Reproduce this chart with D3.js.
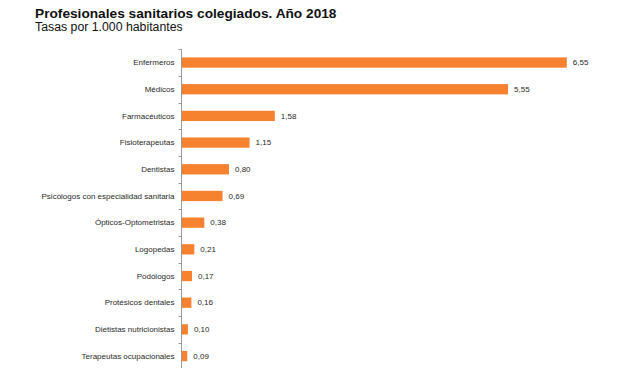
<!DOCTYPE html>
<html>
<head>
<meta charset="utf-8">
<script src="https://cdn.jsdelivr.net/npm/d3@7"></script>
<style>
  html, body { margin: 0; padding: 0; background: #fff; }
  svg { display: block; }
</style>
</head>
<body>
<svg id="chart" width="620" height="368"></svg>
<script>
const titleText = "Profesionales sanitarios colegiados. Año 2018";
const subtitleText = "Tasas por 1.000 habitantes";
const categories = [
  "Enfermeros", "Médicos", "Farmacéuticos", "Fisioterapeutas", "Dentistas",
  "Psicólogos con especialidad sanitaria", "Ópticos-Optometristas", "Logopedas",
  "Podólogos", "Protésicos dentales", "Dietistas nutricionistas", "Terapeutas ocupacionales"
];
const values = [6.55, 5.55, 1.58, 1.15, 0.80, 0.69, 0.38, 0.21, 0.17, 0.16, 0.10, 0.09];

const svg = d3.select("#chart");
const font = "'Liberation Sans', Arial, sans-serif";
const barColor = "#f6812f";
const textColor = "#2a2a2a";

const locale = d3.formatLocale({ decimal: ",", thousands: ".", grouping: [3], currency: ["", "€"] });
const fmt = locale.format(".2f");

const x = d3.scaleLinear().domain([0, 7]).range([182, 182 + 7 * 58.75]);
const y = d3.scaleBand().domain(categories).range([49.2, 369.4]).padding(0);
const barH = y.bandwidth() * 0.385;

svg.append("text").attr("x", 35).attr("y", 18.3)
  .attr("font-family", font).attr("font-weight", "bold").attr("font-size", "13.7px")
  .attr("fill", "#111").text(titleText);
svg.append("text").attr("x", 35).attr("y", 31)
  .attr("font-family", font).attr("font-size", "12.3px")
  .attr("fill", "#111").text(subtitleText);

// axis line + ticks at band boundaries
const axisX = x(0) - 0.5;
const g = svg.append("g");
g.append("line").attr("x1", axisX).attr("x2", axisX)
  .attr("y1", y.range()[0]).attr("y2", y.range()[1])
  .attr("stroke", "#9a9a9a").attr("stroke-width", 1);
const boundaries = categories.map(c => y(c)).concat([y.range()[1]]);
g.selectAll("line.tick").data(boundaries).join("line")
  .attr("class", "tick")
  .attr("x1", axisX - 3).attr("x2", axisX)
  .attr("y1", d => Math.round(d) + 0.5).attr("y2", d => Math.round(d) + 0.5)
  .attr("stroke", "#9a9a9a").attr("stroke-width", 1);

// category labels
g.selectAll("text.cat").data(categories).join("text")
  .attr("class", "cat")
  .attr("x", axisX - 7)
  .attr("y", d => y(d) + y.bandwidth() / 2)
  .attr("dy", "0.35em")
  .attr("text-anchor", "end")
  .attr("font-family", font).attr("font-size", "8px")
  .attr("fill", textColor)
  .text(d => d);

// bars
const data = categories.map((c, i) => ({ c, v: values[i] }));
svg.selectAll("rect.bar").data(data).join("rect")
  .attr("class", "bar")
  .attr("x", x(0))
  .attr("y", d => y(d.c) + (y.bandwidth() - barH) / 2)
  .attr("width", d => x(d.v) - x(0))
  .attr("height", barH)
  .attr("fill", barColor);

// value labels
svg.selectAll("text.val").data(data).join("text")
  .attr("class", "val")
  .attr("x", d => x(d.v) + 6)
  .attr("y", d => y(d.c) + y.bandwidth() / 2)
  .attr("dy", "0.35em")
  .attr("font-family", font).attr("font-size", "8px")
  .attr("fill", textColor)
  .text(d => fmt(d.v));
</script>
</body>
</html>
